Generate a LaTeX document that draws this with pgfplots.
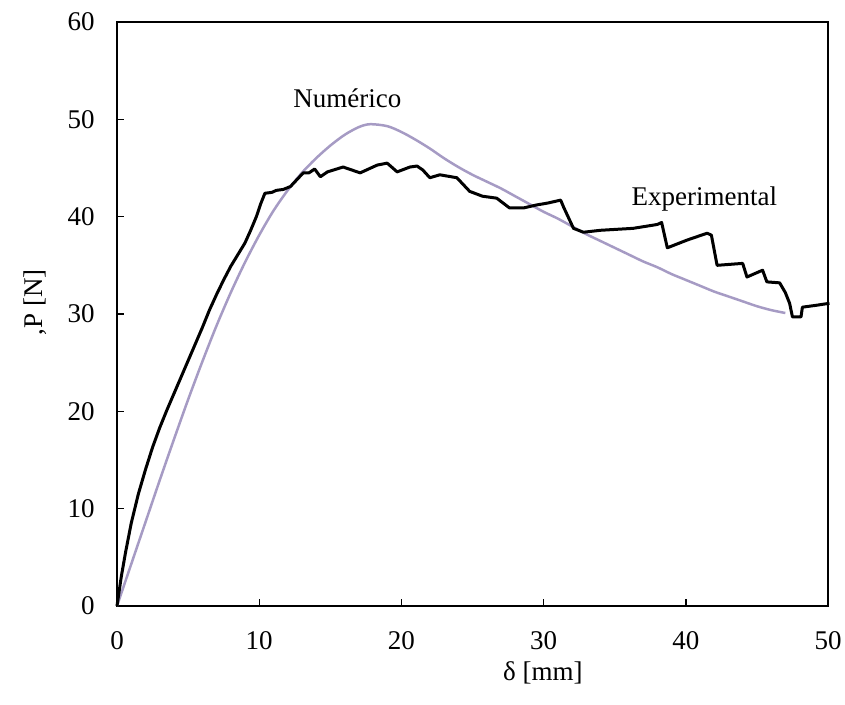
\documentclass[border=0pt]{standalone}
\usepackage{pgfplots}
\pgfplotsset{compat=1.18}
\usepackage{fontspec}
\setmainfont{Liberation Serif}
\definecolor{numcol}{RGB}{166,155,196}
\begin{document}
\fontsize{13.5pt}{16pt}\selectfont
\begin{tikzpicture}
\useasboundingbox (-58.5pt,-49.5pt) rectangle (364pt,303pt);
\begin{axis}[
  scale only axis, width=355.5pt, height=292pt,
  xmin=0, xmax=50, ymin=0, ymax=60,
  xtick={0,10,20,30,40,50}, ytick={0,10,20,30,40,50,60},
  tick align=inside, xtick pos=bottom, ytick pos=left,
  major tick length=3.5pt,
  axis line style={line width=0.7pt}, tick style={line width=0.7pt, black},
  /pgf/number format/assume math mode=true,
  ticklabel style={font=\fontsize{13.5pt}{16pt}\selectfont},
  xticklabel style={yshift=-8pt},
  yticklabel style={xshift=-6.5pt},
  label style={font=\fontsize{13.5pt}{16pt}\selectfont},
  xlabel={δ [mm]},
  xlabel style={at={(axis description cs:0.599,-0.114)}, anchor=center},
  ylabel={,P [N]},
  ylabel style={at={(axis description cs:-0.115,0.52)}, anchor=center},
  clip=false,
]
\addplot[color=numcol, line width=1.25pt, smooth] coordinates {
(0,0) (1,4.3) (2,8.6) (3,12.9) (4,17.1) (5,21.2) (6,25.1) (7,28.8) (8,32.2)
(9,35.3) (10,38.1) (11,40.6) (12,42.7) (13,44.5) (14,46.0) (15,47.3) (16,48.4)
(17,49.2) (17.8,49.5) (19,49.3) (20,48.7) (21,47.9) (22,47.0) (23,46.0)
(24,45.1) (25,44.3) (26,43.6) (27,42.9) (28,42.1) (29,41.3) (30,40.5) (31,39.8)
(32,39.0) (33,38.2) (34,37.5) (35,36.8) (36,36.1) (37,35.4) (38,34.8) (39,34.1)
(40,33.5) (41,32.9) (42,32.3) (43,31.8) (44,31.3) (45,30.8) (46,30.4) (47,30.1)
};
\addplot[black, line width=1.5pt, line join=round] coordinates {
(0,0) (0.3,3) (0.6,5.5) (1.0,8.5) (1.5,11.5) (2.0,14) (2.5,16.3) (3,18.3) (3.5,20.1)
(4,21.8) (4.5,23.5) (5,25.2) (5.5,26.9) (6,28.6) (6.5,30.4) (7,32.0) (7.5,33.5)
(8,34.9) (8.5,36.1) (9,37.3) (9.4,38.6) (9.8,40) (10.1,41.3) (10.4,42.4) (10.9,42.5)
(11.2,42.7) (11.7,42.8) (12.2,43.1)
(13.1,44.5) (13.5,44.5) (13.9,44.9) (14.3,44.1) (14.8,44.6) (15.9,45.1) (17.1,44.5) (18.3,45.3)
(19.0,45.5) (19.7,44.6) (20.6,45.1) (21.1,45.2) (21.5,44.8) (22.0,44.0) (22.7,44.3)
(23.9,44.0) (24.8,42.6) (25.7,42.1) (26.7,41.9) (27.6,40.9) (28.6,40.9) (29.5,41.2)
(30.3,41.4) (31.2,41.7) (31.4,41.0) (32.1,38.8) (32.8,38.4) (34.0,38.6) (36.3,38.8)
(38.0,39.2) (38.3,39.4) (38.7,36.8) (40.1,37.6) (41.5,38.3) (41.8,38.1) (42.2,35.0)
(44.0,35.2) (44.3,33.8) (45.4,34.5) (45.7,33.3) (46.6,33.2) (47.0,32.2) (47.3,31.1)
(47.5,29.7) (48.1,29.7) (48.2,30.7) (49.2,30.9) (50.1,31.1)
};
\node at (axis cs:16.2,52.2) {Numérico};
\node at (axis cs:41.3,41.8) {Experimental};
\end{axis}
\end{tikzpicture}
\end{document}
